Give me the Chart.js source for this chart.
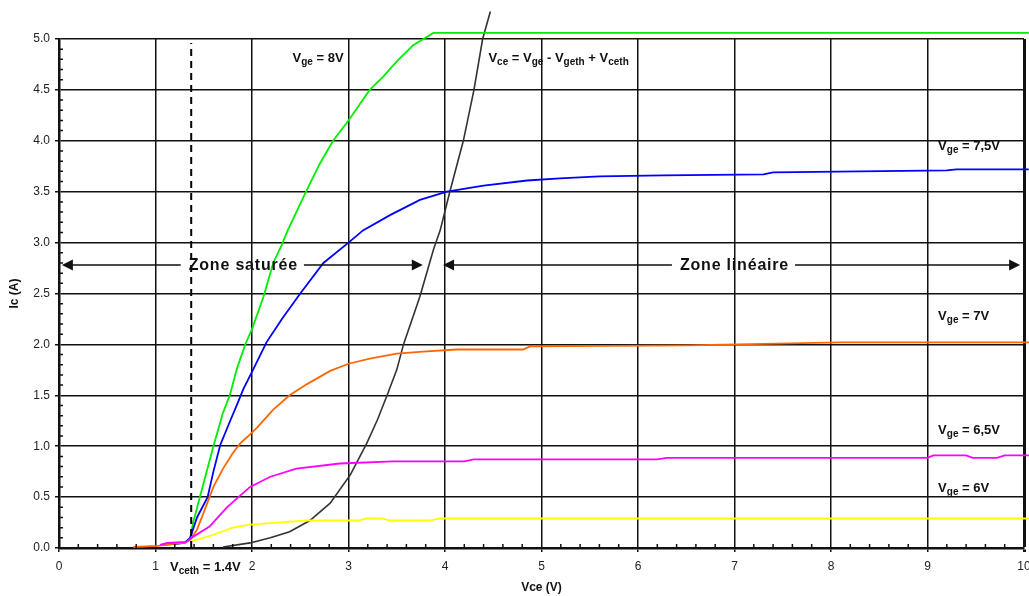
<!DOCTYPE html>
<html>
<head>
<meta charset="utf-8">
<script src="https://cdn.jsdelivr.net/npm/chart.js@4.4.1/dist/chart.umd.min.js"></script>
<style>
  html, body { margin: 0; padding: 0; background: #fff; }
  #wrap { width: 1029px; height: 596px; }
</style>
</head>
<body>
<div id="wrap"><canvas id="icChart"></canvas></div>
<script>
// Caractéristiques Ic = f(Vce) pour plusieurs Vge  (points [Vce, Ic])
const vge8 = [[1.05,0.03],[1.2,0.04],[1.3,0.05],[1.36,0.1],[1.39,0.25],[1.46,0.5],[1.6,1.0],[1.7,1.33],[1.77,1.5],[1.84,1.75],[1.93,2.0],[2.0,2.15],[2.12,2.47],[2.22,2.8],[2.31,2.98],[2.37,3.12],[2.56,3.5],[2.7,3.77],[2.84,4.0],[3.0,4.2],[3.22,4.5],[3.36,4.63],[3.5,4.78],[3.67,4.94],[3.88,5.06],[10.05,5.06]];
const vge75 = [[1.05,0.03],[1.2,0.04],[1.3,0.05],[1.36,0.1],[1.43,0.3],[1.54,0.5],[1.6,0.75],[1.67,1.01],[1.77,1.24],[1.85,1.42],[1.91,1.56],[2.0,1.73],[2.15,2.02],[2.31,2.25],[2.5,2.5],[2.74,2.8],[3.0,3.0],[3.15,3.12],[3.43,3.27],[3.74,3.42],[4.02,3.5],[4.4,3.56],[4.85,3.61],[5.19,3.63],[5.6,3.65],[6.26,3.66],[7.3,3.67],[7.4,3.69],[8.3,3.7],[9.2,3.71],[9.3,3.72],[10.05,3.72]];
const vge7 = [[0.77,0.01],[1.02,0.02],[1.2,0.04],[1.3,0.05],[1.36,0.08],[1.43,0.18],[1.5,0.35],[1.6,0.6],[1.7,0.78],[1.8,0.93],[1.88,1.03],[1.95,1.09],[2.05,1.18],[2.22,1.36],[2.39,1.5],[2.57,1.61],[2.81,1.74],[3.0,1.81],[3.22,1.86],[3.5,1.91],[3.77,1.93],[4.12,1.95],[4.81,1.95],[4.88,1.98],[6.5,1.99],[8.1,2.02],[10.05,2.02]];
const vge65 = [[1.05,0.03],[1.12,0.05],[1.32,0.06],[1.39,0.11],[1.56,0.21],[1.74,0.4],[1.98,0.6],[2.19,0.7],[2.46,0.78],[2.91,0.83],[3.46,0.85],[4.2,0.85],[4.3,0.87],[6.2,0.87],[6.3,0.885],[9.0,0.885],[9.06,0.91],[9.4,0.91],[9.47,0.885],[9.72,0.885],[9.8,0.91],[10.05,0.91]];
const vge6 = [[1.36,0.06],[1.6,0.13],[1.8,0.2],[1.98,0.23],[2.26,0.25],[2.57,0.27],[3.1,0.27],[3.19,0.29],[3.35,0.29],[3.43,0.27],[3.84,0.27],[3.95,0.29],[10.05,0.29]];
// limite Vce = Vge - Vgeth + Vceth
const limite = [[1.7,0.01],[1.98,0.05],[2.19,0.1],[2.39,0.16],[2.6,0.27],[2.81,0.44],[3.02,0.72],[3.19,1.03],[3.3,1.26],[3.4,1.5],[3.5,1.75],[3.57,2.0],[3.74,2.47],[3.88,2.93],[3.95,3.12],[4.05,3.5],[4.19,4.0],[4.3,4.5],[4.39,5.0],[4.47,5.27]];
// Vceth (trait pointillé)
const vceth = [[1.37,0],[1.37,4.96]];

// axes
const xRange = [0, 10];
const yRange = [0, 5];

// étiquettes (les morceaux impairs sont en indice)
const labels = [
  { x: 2.42, y: 4.77, parts: ['V', 'ge', ' = 8V'] },
  { x: 4.45, y: 4.77, parts: ['V', 'ce', ' = V', 'ge', ' - V', 'geth', ' + V', 'ceth'] },
  { x: 9.11, y: 3.91, parts: ['V', 'ge', ' = 7,5V'] },
  { x: 9.11, y: 2.24, parts: ['V', 'ge', ' = 7V'] },
  { x: 9.11, y: 1.12, parts: ['V', 'ge', ' = 6,5V'] },
  { x: 9.11, y: 0.55, parts: ['V', 'ge', ' = 6V'] },
  { x: 1.15, y: -0.23, parts: ['V', 'ceth', ' = 1.4V'] }
];
// zones (flèches)
const zones = [
  { from: 0.03, to: 3.77, y: 2.78, at: 1.91, text: 'Zone saturée' },
  { from: 3.98, to: 9.96, y: 2.78, at: 7.0, text: 'Zone linéaire' }
];

const FONT = '"Liberation Sans", Arial, sans-serif';
const toXY = arr => arr.map(p => ({ x: p[0], y: p[1] }));

function serie(data, color, extra) {
  return Object.assign({
    data: toXY(data),
    borderColor: color,
    borderWidth: 1.8,
    pointRadius: 0,
    tension: 0,
    fill: false,
    clip: false
  }, extra || {});
}

const annotations = {
  id: 'annotations',
  afterDatasetsDraw(chart) {
    const { ctx, scales: { x, y } } = chart;
    ctx.save();
    ctx.fillStyle = '#111';
    ctx.strokeStyle = '#111';

    // petites graduations
    ctx.lineWidth = 1.5;
    ctx.beginPath();
    for (let i = 1; i < 50; i++) {
      if (i % 5 === 0) continue;
      const px = x.getPixelForValue(i / 5);
      ctx.moveTo(px, y.bottom);
      ctx.lineTo(px, y.bottom - 4);
    }
    for (let i = 1; i < 50; i++) {
      if (i % 5 === 0) continue;
      const py = y.getPixelForValue(i / 10);
      ctx.moveTo(x.left, py);
      ctx.lineTo(x.left + 4, py);
    }
    ctx.stroke();

    // étiquettes avec indices
    ctx.textBaseline = 'alphabetic';
    ctx.textAlign = 'left';
    labels.forEach(l => {
      let px = x.getPixelForValue(l.x);
      const py = y.getPixelForValue(l.y);
      l.parts.forEach((t, i) => {
        const sub = i % 2 === 1;
        ctx.font = (sub ? 'bold 10px ' : 'bold 13px ') + FONT;
        ctx.fillText(t, px, py + (sub ? 3 : 0));
        px += ctx.measureText(t).width;
      });
    });

    // flèches de zones
    ctx.font = 'bold 16px ' + FONT;
    ctx.letterSpacing = '0.8px';
    ctx.textBaseline = 'middle';
    ctx.textAlign = 'center';
    zones.forEach(z => {
      const py = y.getPixelForValue(z.y);
      const x0 = x.getPixelForValue(z.from);
      const x1 = x.getPixelForValue(z.to);
      const cx = x.getPixelForValue(z.at);
      const half = ctx.measureText(z.text).width / 2;
      ctx.fillText(z.text, cx, py + 1);
      ctx.lineWidth = 1.5;
      ctx.beginPath();
      ctx.moveTo(x0 + 10, py);
      ctx.lineTo(cx - half - 8, py);
      ctx.moveTo(cx + half + 6, py);
      ctx.lineTo(x1 - 10, py);
      ctx.stroke();
      [[x0, -1], [x1, 1]].forEach(([tx, d]) => {
        ctx.beginPath();
        ctx.moveTo(tx, py);
        ctx.lineTo(tx - d * 11, py - 5.5);
        ctx.lineTo(tx - d * 11, py + 5.5);
        ctx.closePath();
        ctx.fill();
      });
    });
    ctx.restore();
  }
};

new Chart(document.getElementById('icChart'), {
  type: 'line',
  data: {
    datasets: [
      serie(vceth, '#000', { borderWidth: 2, borderDash: [7, 5] }),
      serie(vge6, '#ffff00'),
      serie(vge65, '#ff00ff'),
      serie(vge7, '#ff6600'),
      serie(vge75, '#0000ff'),
      serie(vge8, '#00ee00'),
      serie(limite, '#333333', { borderWidth: 1.6 })
    ]
  },
  options: {
    responsive: true,
    maintainAspectRatio: false,
    animation: false,
    layout: { padding: { top: 39, right: 5, left: 0, bottom: 0 } },
    plugins: {
      legend: { display: false },
      tooltip: { enabled: false }
    },
    scales: {
      x: {
        type: 'linear',
        min: xRange[0],
        max: xRange[1],
        ticks: {
          stepSize: 1,
          padding: 7,
          color: '#222',
          font: { family: FONT, size: 12 },
          callback: v => String(v)
        },
        grid: {
          color: '#111',
          lineWidth: c => (c.tick && c.tick.value === 10 ? 3 : 1.5),
          tickLength: 4,
          tickColor: '#111'
        },
        border: { color: '#111', width: 2.5 },
        title: {
          display: true,
          text: 'Vce (V)',
          color: '#111',
          font: { family: FONT, size: 12, weight: 'bold' },
          padding: { top: 0, bottom: 1 }
        },
        afterFit(s) { s.height = 48; s.paddingLeft = 0; s.paddingRight = 0; }
      },
      y: {
        min: yRange[0],
        max: yRange[1],
        ticks: {
          stepSize: 0.5,
          padding: 5,
          color: '#222',
          font: { family: FONT, size: 12 },
          callback: v => v.toFixed(1)
        },
        grid: {
          color: '#111',
          lineWidth: 1.5,
          tickLength: 4,
          tickColor: '#111'
        },
        border: { color: '#111', width: 2.5 },
        title: {
          display: true,
          text: 'Ic (A)',
          color: '#111',
          font: { family: FONT, size: 12, weight: 'bold' },
          padding: { top: 7, bottom: 0 }
        },
        afterFit(s) { s.width = 59; s.paddingTop = 0; s.paddingBottom = 0; }
      }
    }
  },
  plugins: [annotations]
});
</script>
</body>
</html>
